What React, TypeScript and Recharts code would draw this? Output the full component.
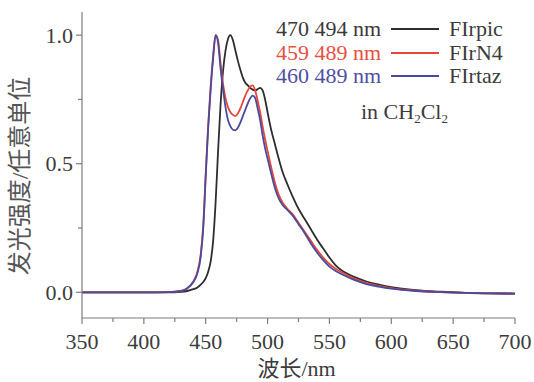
import { LineChart, Line, XAxis, YAxis, Legend } from 'recharts';

// wavelength grid (nm), shared by the three spectra
const wavelengths = [
  350, 400, 420, 430, 435, 440, 443, 446, 448, 450,
  452, 454, 456, 458, 460, 462, 464, 466, 468, 470,
  472, 474, 476, 478, 480, 482, 484, 486, 488, 490,
  492, 494, 496, 498, 500, 503, 506, 509, 512, 516,
  520, 525, 530, 535, 540, 545, 550, 555, 560, 570,
  580, 590, 600, 620, 640, 660, 680, 700,
];

const firpic = [
  0, 0, 0, 0.002, 0.005, 0.012, 0.018, 0.03, 0.04, 0.055,
  0.08, 0.12, 0.2, 0.35, 0.55, 0.73, 0.86, 0.94, 0.985, 1.0,
  0.98, 0.94, 0.9, 0.865, 0.835, 0.815, 0.805, 0.795, 0.788, 0.785,
  0.79, 0.795, 0.785, 0.75, 0.7, 0.63, 0.575, 0.52, 0.47, 0.42,
  0.375, 0.325, 0.285, 0.245, 0.205, 0.17, 0.135, 0.105, 0.085, 0.06,
  0.042, 0.03, 0.02, 0.008, 0.002, -0.002, -0.004, -0.005,
];

const firn4 = [
  0, 0, 0.001, 0.005, 0.016, 0.042, 0.075, 0.15, 0.26, 0.46,
  0.65, 0.8, 0.92, 1.0, 0.98, 0.89, 0.81, 0.755, 0.72, 0.7,
  0.69, 0.685, 0.695, 0.715, 0.74, 0.765, 0.785, 0.8, 0.805, 0.785,
  0.745, 0.7, 0.645, 0.595, 0.55, 0.485, 0.425, 0.38, 0.35, 0.325,
  0.305, 0.27, 0.235, 0.2, 0.165, 0.135, 0.11, 0.092, 0.078, 0.053,
  0.036, 0.025, 0.016, 0.006, 0.001, -0.002, -0.004, -0.005,
];

const firtaz = [
  0, 0, 0.001, 0.005, 0.015, 0.04, 0.07, 0.14, 0.25, 0.45,
  0.64, 0.79, 0.91, 1.0, 0.97, 0.87, 0.79, 0.72, 0.67, 0.645,
  0.632, 0.63, 0.64, 0.66, 0.685, 0.71, 0.735, 0.755, 0.765, 0.755,
  0.715, 0.67, 0.61, 0.56, 0.52, 0.46, 0.405, 0.365, 0.34, 0.32,
  0.3, 0.265, 0.23, 0.19, 0.155, 0.125, 0.1, 0.083, 0.07, 0.048,
  0.032, 0.022, 0.014, 0.005, 0.001, -0.002, -0.004, -0.005,
];

const seriesNames = ['FIrpic', 'FIrN4', 'FIrtaz'];
const peakLabels = ['470 494 nm', '459 489 nm', '460 489 nm'];
const lineColors = ['#2e2e2e', '#e8463a', '#4a4a9c'];
const labelColors = ['#3a3a3a', '#e8503f', '#5050a2'];

const xTicks = [350, 375, 400, 425, 450, 475, 500, 525, 550, 575, 600, 625, 650, 675, 700];
const yTicks = [0, 0.25, 0.5, 0.75, 1.0];

const data = wavelengths.map((nm, i) => ({
  nm,
  FIrpic: firpic[i],
  FIrN4: firn4[i],
  FIrtaz: firtaz[i],
}));

const FONT = "'Liberation Serif', 'Noto Sans CJK SC', serif";
const AXIS = '#7c7c7c';
const TEXT = '#3c3c3c';

function XTick({ x, y, payload }: any) {
  const major = payload.value % 50 === 0;
  return (
    <g>
      <line x1={x} y1={y} x2={x} y2={y + (major ? 6 : 4)} stroke={AXIS} strokeWidth={1.2} />
      {major && (
        <text x={x} y={y + 31} textAnchor="middle" fontSize={22} fontFamily={FONT} fill={TEXT}>
          {payload.value}
        </text>
      )}
    </g>
  );
}

function YTick({ x, y, payload }: any) {
  const major = Math.abs((payload.value * 2) % 1) < 1e-6;
  return (
    <g>
      <line x1={x - (major ? 6 : 4)} y1={y} x2={x} y2={y} stroke={AXIS} strokeWidth={1.2} />
      {major && (
        <text x={x - 9} y={y + 7.5} textAnchor="end" fontSize={22} fontFamily={FONT} fill={TEXT}>
          {payload.value.toFixed(1)}
        </text>
      )}
    </g>
  );
}

function LegendBox() {
  return (
    <div style={{ position: 'relative', fontFamily: FONT, fontSize: 22, lineHeight: '23.7px' }}>
      {seriesNames.map((name, i) => (
        <div key={name} style={{ position: 'absolute', left: 0, top: 17 + i * 23.7, display: 'flex', alignItems: 'center', whiteSpace: 'nowrap' }}>
          <span style={{ width: 381, textAlign: 'right', color: labelColors[i] }}>{peakLabels[i]}</span>
          <span style={{ display: 'inline-block', width: 48, height: 0, borderTop: `2px solid ${lineColors[i]}`, margin: '0 10px 0 10px' }} />
          <span style={{ color: TEXT }}>{name}</span>
        </div>
      ))}
      <div style={{ position: 'absolute', left: 361, top: 100, color: TEXT, whiteSpace: 'nowrap' }}>
        in CH<sub style={{ fontSize: 13, verticalAlign: '-4px' }}>2</sub>Cl<sub style={{ fontSize: 13, verticalAlign: '-4px' }}>2</sub>
      </div>
    </div>
  );
}

export default function App() {
  return (
    <div style={{ position: 'absolute', left: 0, top: 0, background: '#fff' }}>
      <LineChart width={534} height={382} data={data} margin={{ top: 12, right: 19, bottom: 0, left: 0 }}>
        <XAxis
          dataKey="nm"
          type="number"
          domain={[350, 700]}
          ticks={xTicks}
          interval={0}
          tickSize={0}
          tickMargin={0}
          tickLine={false}
          tick={<XTick />}
          height={64}
          axisLine={{ stroke: AXIS, strokeWidth: 1.2 }}
          label={{
            content: ({ viewBox }: any) => (
              <text
                x={viewBox.x + viewBox.width / 2 - 2}
                y={viewBox.y + viewBox.height - 6}
                textAnchor="middle"
                fontSize={22}
                fontFamily={FONT}
                fill={TEXT}
              >
                波长/nm
              </text>
            ),
          }}
        />
        <XAxis xAxisId="top" orientation="top" dataKey="nm" type="number" domain={[350, 700]} height={0} tick={false} tickLine={false} axisLine={{ stroke: AXIS, strokeWidth: 1.2 }} />
        <YAxis
          type="number"
          domain={[-0.1, 1.09]}
          ticks={yTicks}
          interval={0}
          tickSize={0}
          tickMargin={0}
          tickLine={false}
          tick={<YTick />}
          width={82}
          allowDataOverflow
          axisLine={{ stroke: AXIS, strokeWidth: 1.2 }}
          label={{
            content: ({ viewBox }: any) => {
              const cx = 20;
              const cy = viewBox.y + viewBox.height / 2 + 11;
              return (
                <text
                  x={cx}
                  y={cy}
                  transform={`rotate(-90 ${cx} ${cy})`}
                  textAnchor="middle"
                  dominantBaseline="central"
                  fontSize={24}
                  fontFamily={FONT}
                  fill="#555"
                >
                  发光强度/任意单位
                </text>
              );
            },
          }}
        />
        <YAxis yAxisId="right" orientation="right" width={0} domain={[-0.1, 1.09]} tick={false} tickLine={false} axisLine={{ stroke: AXIS, strokeWidth: 1.2 }} />
        <Legend
          layout="horizontal"
          verticalAlign="middle"
          align="center"
          wrapperStyle={{ left: 0, top: 0, width: 534, height: 0 }}
          content={() => <LegendBox />}
        />
        {seriesNames.map((name, i) => (
          <Line
            key={name}
            type="monotone"
            dataKey={name}
            stroke={lineColors[i]}
            strokeWidth={1.8}
            dot={false}
            isAnimationActive={false}
          />
        ))}
      </LineChart>
    </div>
  );
}
